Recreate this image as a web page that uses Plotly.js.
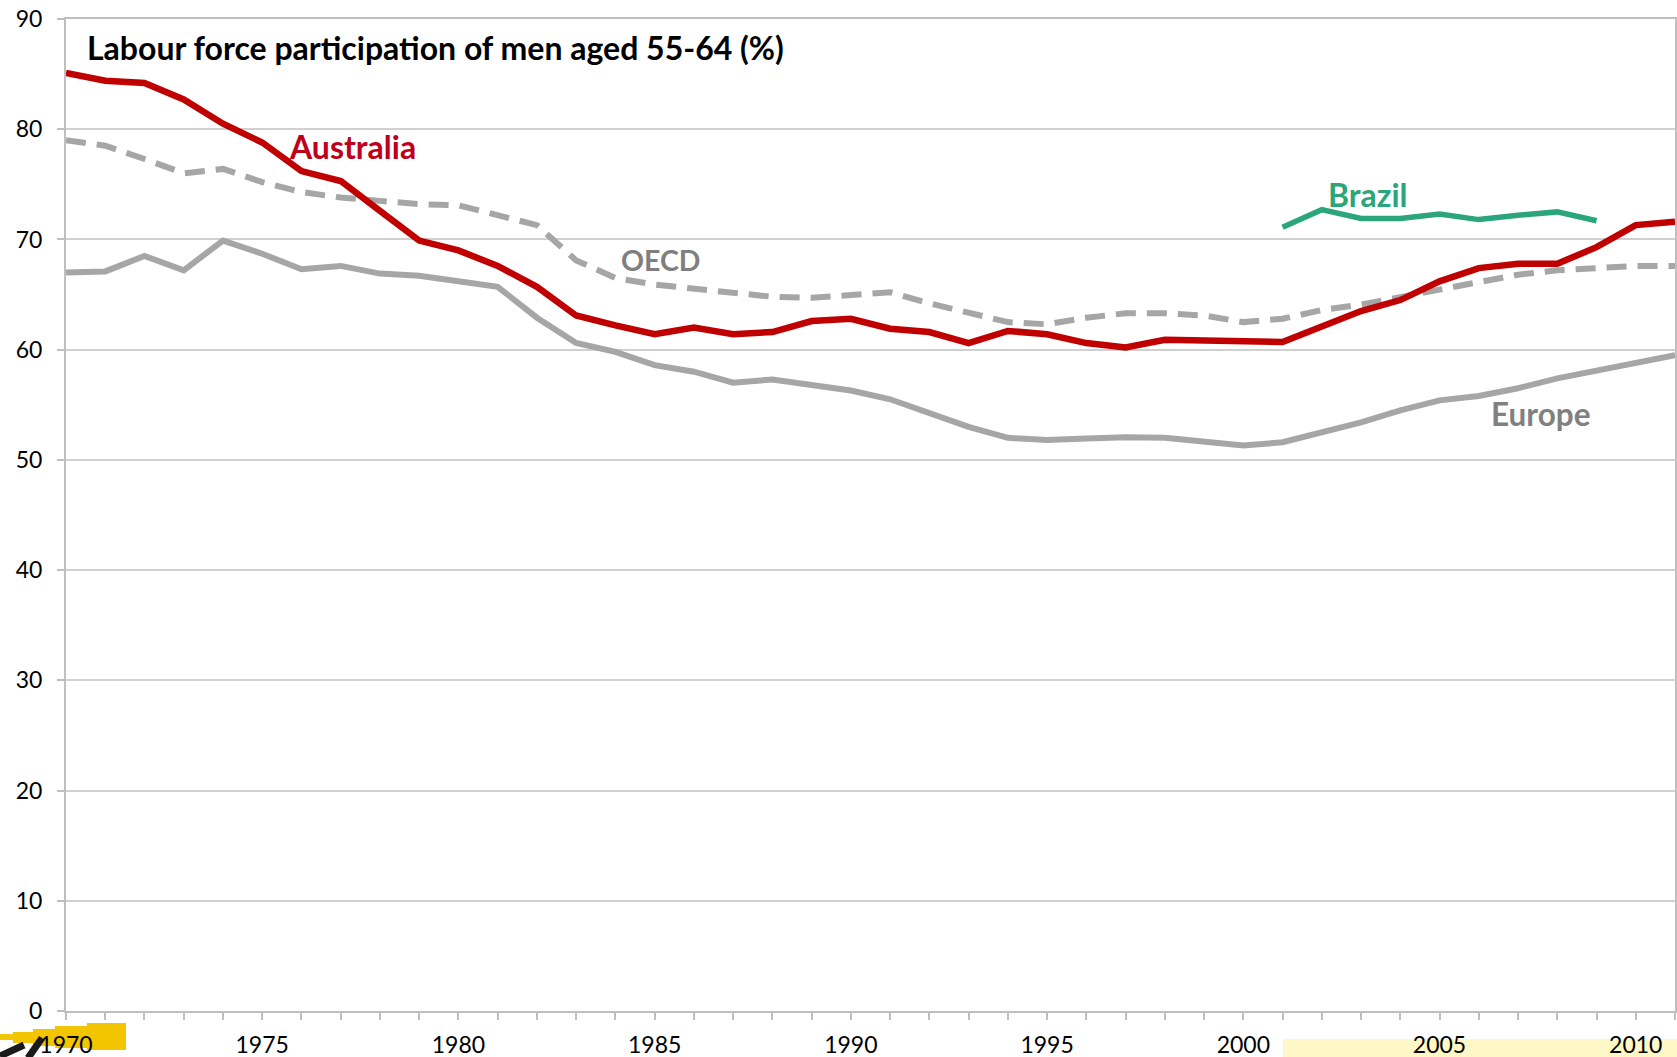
<!DOCTYPE html>
<html>
<head>
<meta charset="utf-8">
<script src="https://cdn.plot.ly/plotly-3.0.1.min.js"></script>
<style>
html,body{margin:0;padding:0;background:#fff;}
#chart{width:1677px;height:1057px;}
</style>
</head>
<body>
<div id="chart"></div>
<script>
const years = [1970,1971,1972,1973,1974,1975,1976,1977,1978,1979,1980,1981,1982,1983,1984,1985,1986,1987,1988,1989,1990,1991,1992,1993,1994,1995,1996,1997,1998,1999,2000,2001,2002,2003,2004,2005,2006,2007,2008,2009,2010,2011];
const australia = [85.1,84.4,84.2,82.7,80.5,78.8,76.2,75.3,72.6,69.9,69.0,67.6,65.7,63.1,62.2,61.4,62.0,61.4,61.6,62.6,62.8,61.9,61.6,60.6,61.7,61.4,60.6,60.2,60.9,60.85,60.8,60.7,62.1,63.5,64.5,66.2,67.4,67.8,67.8,69.3,71.3,71.6];
const oecd = [79.0,78.5,77.3,76.0,76.4,75.2,74.3,73.8,73.5,73.2,73.1,72.2,71.3,68.1,66.5,65.9,65.5,65.2,64.8,64.7,64.9,65.2,64.2,63.4,62.5,62.3,62.9,63.3,63.3,63.1,62.5,62.8,63.6,64.1,64.8,65.5,66.2,66.8,67.2,67.4,67.6,67.6];
const europe = [67.0,67.1,68.5,67.2,69.9,68.7,67.3,67.6,66.9,66.7,66.2,65.7,62.9,60.6,59.8,58.6,58.0,57.0,57.3,56.8,56.3,55.5,54.2,53.0,52.0,51.8,51.95,52.05,52.0,51.6,51.3,51.6,52.5,53.4,54.5,55.4,55.8,56.5,57.4,58.1,58.7,59.5];
const brazilYears = [2001,2002,2003,2004,2005,2006,2007,2008,2009];
const brazil = [71.1,72.7,71.9,71.9,72.3,71.8,72.2,72.5,71.7];
const xTickVals = [1970,1975,1980,1985,1990,1995,2000,2005,2010];
const xTickText = ['1970','1975','1980','1985','1990','1995','2000','2005','2010'];
const yTickVals = [0,10,20,30,40,50,60,70,80,90];

const FONT = 'Lato, "Open Sans", sans-serif';
const RED = '#C00000';
const GREY = '#A6A6A6';
const GREEN = '#2BA67A';

const traces = [
  {x: years, y: europe, type:'scatter', mode:'lines', line:{color:GREY, width:6}, hoverinfo:'skip'},
  {x: years, y: oecd, type:'scatter', mode:'lines', line:{color:GREY, width:6, dash:'20px,11px'}, hoverinfo:'skip'},
  {x: years, y: australia, type:'scatter', mode:'lines', line:{color:RED, width:6.5}, hoverinfo:'skip'},
  {x: brazilYears, y: brazil, type:'scatter', mode:'lines', line:{color:GREEN, width:5.5}, hoverinfo:'skip'}
];

const layout = {
  width:1677, height:1057,
  margin:{l:66, r:2, t:19, b:46, pad:0},
  paper_bgcolor:'#fff', plot_bgcolor:'#fff',
  showlegend:false,
  font:{family:FONT, size:23, color:'#000'},
  xaxis:{
    type:'linear', range:[1970,2011], showgrid:false, zeroline:false,
    showline:true, linecolor:'#BFBFBF', linewidth:2, mirror:true,
    tickmode:'array', tickvals:xTickVals, ticktext:xTickText,
    ticks:'outside', ticklen:7, tickwidth:2, tickcolor:'#BFBFBF',
    minor:{dtick:1, tick0:1970, ticks:'outside', ticklen:7, tickwidth:2, tickcolor:'#BFBFBF', showgrid:false},
    tickfont:{family:FONT, size:23, color:'#000'}, ticklabelstandoff:5
  },
  yaxis:{
    range:[0,90], tickmode:'array', tickvals:yTickVals,
    showgrid:true, gridcolor:'#D0D0D0', gridwidth:2, zeroline:false,
    showline:true, linecolor:'#BFBFBF', linewidth:2, mirror:true,
    ticks:'outside', ticklen:7, tickwidth:2, tickcolor:'#BFBFBF',
    tickfont:{family:FONT, size:23, color:'#000'}, ticklabelstandoff:10
  },
  annotations:[
    {xref:'paper', yref:'y', x:0.0118, y:87.4, xanchor:'left', yanchor:'middle', showarrow:false,
     text:'<b>Labour force participation of men aged 55-64 (%)</b>', font:{family:FONT, size:32, color:'#000'}},
    {xref:'x', yref:'y', x:1977.29, y:78.4, showarrow:false, text:'<b>Australia</b>', font:{family:FONT, size:32, color:'#C0001A'}},
    {xref:'x', yref:'y', x:1985.16, y:68.1, showarrow:false, text:'<b>OECD</b>', font:{family:FONT, size:28.5, color:'#7F7F7F'}},
    {xref:'x', yref:'y', x:2003.17, y:74.1, showarrow:false, text:'<b>Brazil</b>', font:{family:FONT, size:32, color:GREEN}},
    {xref:'x', yref:'y', x:2007.58, y:54.2, showarrow:false, text:'<b>Europe</b>', font:{family:FONT, size:31.5, color:'#808080'}}
  ],
  shapes:[]
};

// bottom-edge decorations (cropped artwork), converted from page pixels to paper coords
const L=66, R=1675, T=19, B=1011;
function pxRect(x0,y0,x1,y1,color){
  return {type:'rect', xref:'paper', yref:'paper', layer:'below',
    x0:(x0-L)/(R-L), x1:(x1-L)/(R-L), y0:(B-y0)/(B-T), y1:(B-y1)/(B-T),
    fillcolor:color, line:{width:0}};
}
function pxLine(x0,y0,x1,y1){
  return {type:'line', xref:'paper', yref:'paper', layer:'above',
    x0:(x0-L)/(R-L), x1:(x1-L)/(R-L), y0:(B-y0)/(B-T), y1:(B-y1)/(B-T),
    line:{color:'#1a1a1a', width:7}};
}
layout.shapes.push(pxRect(1283,1039,1677,1057,'#FFF8C6'));
layout.shapes.push(pxRect(0,1034,13,1040,'#F2C500'));
layout.shapes.push(pxRect(13,1032,33,1043,'#F2C500'));
layout.shapes.push(pxRect(33,1029,55,1046,'#F2C500'));
layout.shapes.push(pxRect(55,1026,87,1048,'#F2C500'));
layout.shapes.push(pxRect(87,1023,126,1050,'#F2C500'));
layout.shapes.push(pxLine(0,1056,24,1045));
layout.shapes.push(pxLine(28,1058,42,1038));

Plotly.newPlot('chart', traces, layout, {staticPlot:true, displayModeBar:false});
</script>
</body>
</html>
